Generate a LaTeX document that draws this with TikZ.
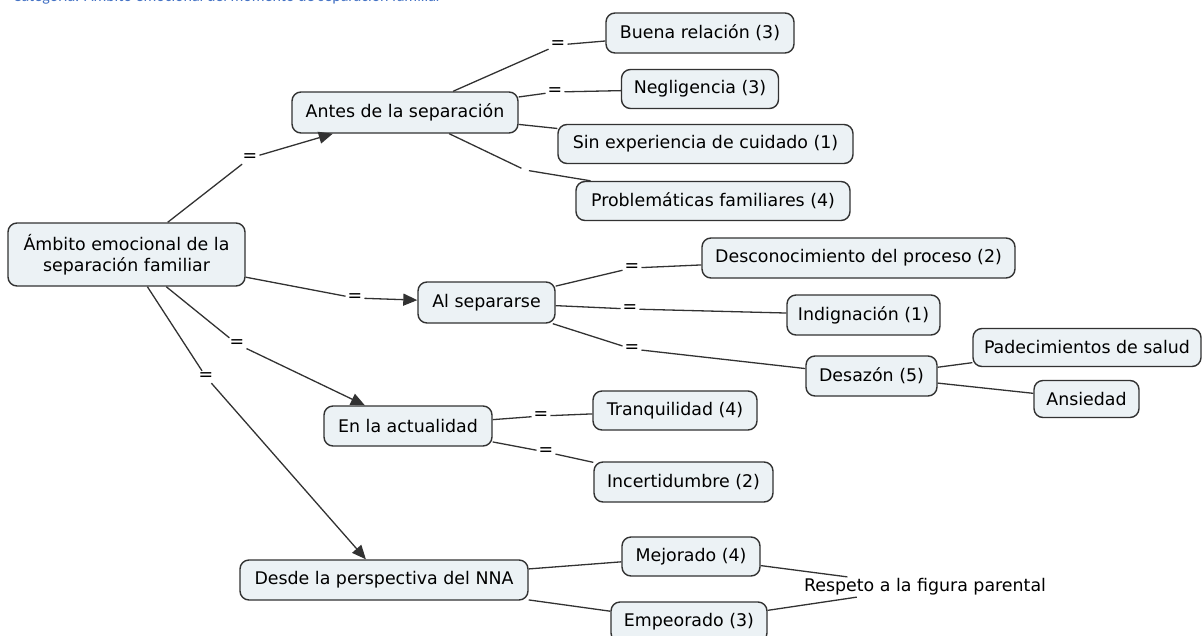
\documentclass[tikz,border=0pt]{standalone}
\usepackage{fontspec}
\setmainfont{DejaVu Sans}
\newfontfamily\capfont{Carlito}
\usetikzlibrary{arrows.meta}
\definecolor{boxfill}{RGB}{236,242,245}
\definecolor{boxline}{RGB}{50,50,50}
\definecolor{capblue}{RGB}{68,114,196}
\begin{document}
\begin{tikzpicture}[x=1pt,y=-1pt,
  cbox/.style={draw=boxline, line width=1.4pt, fill=boxfill, rounded corners=9pt,
    inner sep=0pt, align=center, font=\fontsize{17.4}{21}\selectfont},
  eq/.style={inner sep=2pt, font=\fontsize{17.4}{21}\selectfont},
  plaintext/.style={inner xsep=2pt, inner ysep=1.5pt, font=\fontsize{17.4}{21}\selectfont},
  conn/.style={draw=boxline, line width=1.3pt},
  arr/.style={conn, -{Triangle[length=14pt,width=12pt]}}]
\useasboundingbox (0,0) rectangle (1202,635);
\begin{scope}
\clip (0,0) rectangle (1202,635);
\node[anchor=base west, text=capblue, inner sep=0pt, font=\capfont\fontsize{16}{16}\selectfont] (title) at (13,1.5)
  {Categoría: Ámbito emocional del momento de separación familiar};
\end{scope}

% concepts
\node[cbox, minimum width=188, minimum height=40] (buena) at (700,33) {Buena relación (3)};
\node[cbox, minimum width=157, minimum height=39] (negl) at (700,89) {Negligencia (3)};
\node[cbox, minimum width=226, minimum height=41] (antes) at (405,112.5) {Antes de la separación};
\node[cbox, minimum width=295, minimum height=39] (sinexp) at (705.5,144) {Sin experiencia de cuidado (1)};
\node[cbox, minimum width=274, minimum height=39] (probl) at (713,201) {Problemáticas familiares (4)};
\node[cbox, minimum width=237, minimum height=63] (ambito) at (126.5,254.5) {Ámbito emocional de la\\separación familiar};
\node[cbox, minimum width=313, minimum height=40] (descon) at (858.5,258) {Desconocimiento del proceso (2)};
\node[cbox, minimum width=137, minimum height=41] (alsep) at (486.5,302.5) {Al separarse};
\node[cbox, minimum width=153, minimum height=40] (indig) at (863.5,315) {Indignación (1)};
\node[cbox, minimum width=228, minimum height=38] (padec) at (1087,347.5) {Padecimientos de salud};
\node[cbox, minimum width=131, minimum height=40] (desazon) at (871.5,376) {Desazón (5)};
\node[cbox, minimum width=105, minimum height=37] (ansiedad) at (1086.5,399) {Ansiedad};
\node[cbox, minimum width=168, minimum height=40] (enact) at (408,426) {En la actualidad};
\node[cbox, minimum width=164, minimum height=39] (tranq) at (675,410.5) {Tranquilidad (4)};
\node[cbox, minimum width=179, minimum height=40] (incert) at (683.5,482) {Incertidumbre (2)};
\node[cbox, minimum width=288, minimum height=40] (desde) at (384,580) {Desde la perspectiva del NNA};
\node[cbox, minimum width=138, minimum height=39] (mejorado) at (691,556.5) {Mejorado (4)};
\node[cbox, minimum width=156, minimum height=40] (empeorado) at (689,622) {Empeorado (3)};
\node[plaintext] (respeto) at (925,587) {Respeto a la figura parental};

% linking phrases
\node[eq] (la1) at (250,158) {=};
\node[eq] (la2) at (355,298) {=};
\node[eq] (la3) at (237,344) {=};
\node[eq] (la4) at (206,377) {=};
\node[eq] (lb1) at (558,45) {=};
\node[eq] (lb2) at (555,92) {=};
\coordinate (g1) at (525,170);
\node[eq] (lc1) at (632,268) {=};
\node[eq] (lc2) at (630,309) {=};
\node[eq] (lc3) at (632,349) {=};
\node[eq] (ld1) at (541,416) {=};
\node[eq] (ld2) at (546,452) {=};

% connectors from the root
\draw[conn] (ambito) -- (la1);
\draw[arr] (la1) -- (antes);
\draw[conn] (ambito) -- (la2);
\draw[arr] (la2) -- (alsep);
\draw[conn] (ambito) -- (la3);
\draw[arr] (la3) -- (enact);
\draw[conn] (ambito) -- (la4);
\draw[arr] (la4) -- (desde);

% Antes de la separacion
\draw[conn] (antes) -- (lb1);
\draw[conn] (lb1) -- (buena);
\draw[conn] (antes) -- (lb2);
\draw[conn] (lb2) -- (negl);
\draw[conn] (antes) -- (sinexp);
\draw[conn, shorten >=4pt] (antes) -- (g1);
\draw[conn, shorten <=4pt] (g1) -- (probl);

% Al separarse
\draw[conn] (alsep) -- (lc1);
\draw[conn] (lc1) -- (descon);
\draw[conn] (alsep) -- (lc2);
\draw[conn] (lc2) -- (indig);
\draw[conn] (alsep) -- (lc3);
\draw[conn] (lc3) -- (desazon);
\draw[conn] (desazon) -- (padec);
\draw[conn] (desazon) -- (ansiedad);

% En la actualidad
\draw[conn] (enact) -- (ld1);
\draw[conn] (ld1) -- (tranq);
\draw[conn] (enact) -- (ld2);
\draw[conn] (ld2) -- (incert);

% Desde la perspectiva
\draw[conn] (desde) -- (mejorado);
\draw[conn] (desde) -- (empeorado);
\draw[conn] (mejorado) -- (respeto);
\draw[conn] (empeorado) -- (respeto);
\end{tikzpicture}
\end{document}
